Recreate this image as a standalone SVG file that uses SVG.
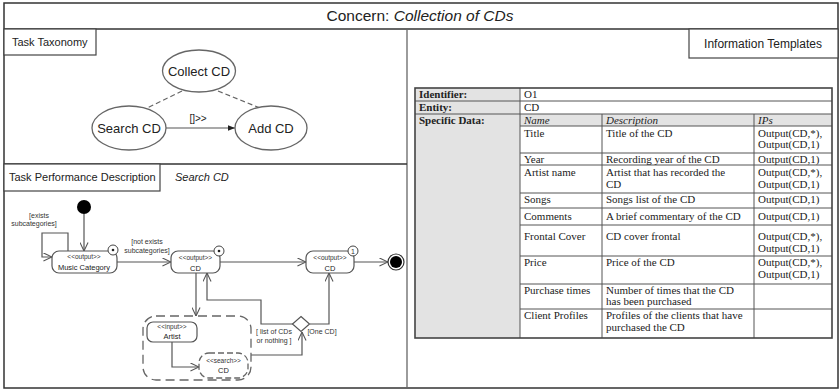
<svg xmlns="http://www.w3.org/2000/svg" width="840" height="392" viewBox="0 0 840 392">
  <defs>
    <marker id="open" viewBox="0 0 10 10" refX="9.5" refY="5" markerWidth="9" markerHeight="9" markerUnits="userSpaceOnUse" orient="auto">
      <path d="M0,0.5 L9.5,5 L0,9.5" fill="none" stroke="#555" stroke-width="1.2"/>
    </marker>
    <marker id="solid" viewBox="0 0 10 10" refX="10" refY="5" markerWidth="9" markerHeight="7" markerUnits="userSpaceOnUse" orient="auto">
      <path d="M0,1 L10,5 L0,9 Z" fill="#222"/>
    </marker>
  </defs>
  <style>
    .frame { fill: none; stroke: #333; stroke-width: 1.5; }
    .lbl { fill: #fff; stroke: #444; stroke-width: 1.2; }
    .sans { font-family: "Liberation Sans", Arial, sans-serif; fill: #222; }
    .ell { fill: #fff; stroke: #666; stroke-width: 1.3; }
    .node { fill: #fff; stroke: #555; stroke-width: 1.2; }
    .dnode { fill: #fff; stroke: #666; stroke-width: 1.3; stroke-dasharray: 6,3; }
    .edge { fill: none; stroke: #555; stroke-width: 1.2; }
    .dash { fill: none; stroke: #666; stroke-width: 1.2; stroke-dasharray: 5,3; }
    .st { font-family: "Liberation Sans", Arial, sans-serif; font-size: 6.5px; fill: #333; text-anchor: middle; }
    .nm { font-family: "Liberation Sans", Arial, sans-serif; font-size: 7.5px; fill: #222; text-anchor: middle; }
    .gd { font-family: "Liberation Sans", Arial, sans-serif; font-size: 7px; fill: #333; }
    .tb { font-family: "Liberation Serif", "Times New Roman", serif; font-size: 11px; fill: #222; }
    .b { font-weight: bold; }
    .i { font-style: italic; }
    .grid { stroke: #555; stroke-width: 1; fill: none; }
  </style>

  <rect x="0" y="0" width="840" height="392" fill="#fff"/>

  <!-- outer frame and panel dividers -->
  <g id="frame">
    <rect class="frame" x="4" y="3" width="834" height="385"/>
    <line class="frame" x1="4" y1="29" x2="838" y2="29"/>
    <line x1="407" y1="29" x2="407" y2="388" stroke="#666" stroke-width="1.3"/>
    <line class="frame" x1="4" y1="164" x2="407" y2="164"/>
    <text class="sans" x="420" y="21" font-size="15.5" text-anchor="middle">Concern: <tspan font-style="italic">Collection of CDs</tspan></text>
  </g>

  <!-- panel labels -->
  <g id="label-taxonomy">
    <rect class="lbl" x="4" y="29" width="92" height="26"/>
    <text class="sans" x="12" y="45.5" font-size="11">Task Taxonomy</text>
  </g>
  <g id="label-performance">
    <rect class="lbl" x="4" y="164" width="156" height="27"/>
    <text class="sans" x="9" y="181" font-size="11">Task Performance Description</text>
    <text class="sans" x="175" y="181" font-size="11" font-style="italic">Search CD</text>
  </g>
  <g id="label-templates">
    <rect class="lbl" x="689" y="29" width="149" height="29"/>
    <text class="sans" x="763" y="47.5" font-size="12" text-anchor="middle">Information Templates</text>
  </g>

  <!-- task taxonomy -->
  <g id="taxonomy-edges">
    <line class="dash" x1="182" y1="91" x2="147" y2="108"/>
    <line class="dash" x1="218" y1="91" x2="260" y2="108"/>
    <line class="edge" x1="166" y1="128" x2="235" y2="128" stroke="#444" marker-end="url(#solid)"/>
    <text class="sans" x="198" y="122" font-size="10" text-anchor="middle">[]&gt;&gt;</text>
  </g>
  <g id="collect-cd">
    <ellipse class="ell" cx="199" cy="71" rx="36.5" ry="21"/>
    <text class="sans" x="199" y="75.5" font-size="13" text-anchor="middle">Collect CD</text>
  </g>
  <g id="search-cd">
    <ellipse class="ell" cx="129" cy="128" rx="37" ry="22"/>
    <text class="sans" x="129" y="132.5" font-size="13" text-anchor="middle">Search CD</text>
  </g>
  <g id="add-cd">
    <ellipse class="ell" cx="271" cy="128" rx="36" ry="22"/>
    <text class="sans" x="271" y="132.5" font-size="13" text-anchor="middle">Add CD</text>
  </g>

  <!-- activity connectors -->
  <g id="activity-edges">
    <line class="edge" x1="84" y1="214" x2="84" y2="251" marker-end="url(#open)"/>
    <path class="edge" d="M68,251 V233 H42 V257 H52" marker-end="url(#open)"/>
    <line class="edge" x1="117" y1="262" x2="171" y2="262" marker-end="url(#open)"/>
    <line class="edge" x1="220" y1="262" x2="306" y2="262" marker-end="url(#open)"/>
    <line class="edge" x1="354" y1="262" x2="388" y2="262" marker-end="url(#open)"/>
    <line class="edge" x1="196" y1="273" x2="196" y2="316" marker-end="url(#open)"/>
    <path class="edge" d="M293,324 H261 V300 H207 V273" marker-end="url(#open)"/>
    <path class="edge" d="M310,324 H329 V273" marker-end="url(#open)"/>
    <path class="edge" d="M251,355 H302 V332" marker-end="url(#open)"/>
    <path class="edge" d="M172,342 V367 H199" marker-end="url(#open)"/>
    <text class="gd" x="39" y="217.5" text-anchor="middle">[exists</text>
    <text class="gd" x="34" y="225.5" text-anchor="middle">subcategories]</text>
    <text class="gd" x="147" y="243.5" text-anchor="middle">[not exists</text>
    <text class="gd" x="147" y="252.5" text-anchor="middle">subcategories]</text>
    <text class="gd" x="274" y="334" text-anchor="middle">[ list of CDs</text>
    <text class="gd" x="274" y="342.5" text-anchor="middle">or nothing ]</text>
    <text class="gd" x="322" y="334" text-anchor="middle">[One CD]</text>
  </g>

  <g id="initial">
    <circle cx="84" cy="207" r="7" fill="#000"/>
  </g>
  <g id="music-category">
    <rect class="node" x="52" y="251" width="65" height="22" rx="7"/>
    <text class="st" x="84" y="259">&lt;&lt;output&gt;&gt;</text>
    <text class="nm" x="84" y="269.5">Music Category</text>
    <circle cx="113" cy="250" r="5" fill="#fff" stroke="#444" stroke-width="1"/>
    <circle cx="113" cy="250" r="1.3" fill="#222"/>
  </g>
  <g id="output-cd-many">
    <rect class="node" x="171" y="251" width="49" height="22" rx="7"/>
    <text class="st" x="195.5" y="259.5">&lt;&lt;output&gt;&gt;</text>
    <text class="nm" x="195.5" y="270.5">CD</text>
    <circle cx="219" cy="251" r="5" fill="#fff" stroke="#444" stroke-width="1"/>
    <circle cx="219" cy="251" r="1.3" fill="#222"/>
  </g>
  <g id="output-cd-one">
    <rect class="node" x="306" y="251" width="48" height="22" rx="7"/>
    <text class="st" x="330" y="259.5">&lt;&lt;output&gt;&gt;</text>
    <text class="nm" x="330" y="270.5">CD</text>
    <circle cx="353" cy="251" r="5" fill="#fff" stroke="#444" stroke-width="1"/>
    <text class="st" x="353" y="253.5" style="font-size:7px">1</text>
  </g>
  <g id="final">
    <circle cx="396" cy="262" r="8" fill="#fff" stroke="#333" stroke-width="1.2"/>
    <circle cx="396" cy="262" r="6" fill="#000"/>
  </g>
  <g id="search-region">
    <rect x="143" y="316" width="108" height="64" rx="13" fill="none" stroke="#666" stroke-width="1.3" stroke-dasharray="9,5"/>
  </g>
  <g id="input-artist">
    <rect class="node" x="147" y="322" width="50" height="20" rx="6"/>
    <text class="st" x="172" y="329">&lt;&lt;input&gt;&gt;</text>
    <text class="nm" x="172" y="338.5">Artist</text>
  </g>
  <g id="search-cd-node">
    <rect class="dnode" x="199" y="353" width="49" height="25" rx="10"/>
    <text class="st" x="223.5" y="363">&lt;&lt;search&gt;&gt;</text>
    <text class="nm" x="223.5" y="372.5">CD</text>
  </g>
  <g id="decision">
    <path d="M301,316.5 L309.5,324 L301,331.5 L292.5,324 Z" fill="#fff" stroke="#555" stroke-width="1.2"/>
  </g>

  <!-- information template table -->
  <g id="template-table">
    <rect x="415" y="88" width="105" height="250" fill="#e3e3e3"/>
    <rect x="520" y="114" width="312" height="12" fill="#e3e3e3"/>
    <g class="grid">
      <line x1="415" y1="101" x2="832" y2="101"/>
      <line x1="415" y1="114" x2="832" y2="114"/>
      <line x1="520" y1="126" x2="832" y2="126"/>
      <line x1="520" y1="153" x2="832" y2="153"/>
      <line x1="520" y1="165" x2="832" y2="165"/>
      <line x1="520" y1="193" x2="832" y2="193"/>
      <line x1="520" y1="208" x2="832" y2="208"/>
      <line x1="520" y1="225" x2="832" y2="225"/>
      <line x1="520" y1="256" x2="832" y2="256"/>
      <line x1="520" y1="284" x2="832" y2="284"/>
      <line x1="520" y1="309" x2="832" y2="309"/>
      <line x1="520" y1="88" x2="520" y2="338"/>
      <line x1="602" y1="114" x2="602" y2="338"/>
      <line x1="754" y1="114" x2="754" y2="338"/>
    </g>
    <rect x="415" y="88" width="417" height="250" fill="none" stroke="#444" stroke-width="1.6"/>

    <text class="tb b" x="419" y="98">Identifier:</text>
    <text class="tb" x="524" y="98">O1</text>
    <text class="tb b" x="419" y="111">Entity:</text>
    <text class="tb" x="524" y="111">CD</text>
    <text class="tb b" x="419" y="123.5">Specific Data:</text>
    <text class="tb i" x="524" y="123.5">Name</text>
    <text class="tb i" x="606" y="123.5">Description</text>
    <text class="tb i" x="758" y="123.5">IPs</text>

    <text class="tb" x="524" y="136.5">Title</text>
    <text class="tb" x="606" y="136.5">Title of the CD</text>
    <text class="tb" x="758" y="136.5">Output(CD,*),</text>
    <text class="tb" x="758" y="148">Output(CD,1)</text>

    <text class="tb" x="524" y="163">Year</text>
    <text class="tb" x="606" y="163">Recording year of the CD</text>
    <text class="tb" x="758" y="163">Output(CD,1)</text>

    <text class="tb" x="524" y="176">Artist name</text>
    <text class="tb" x="606" y="176">Artist that has recorded the</text>
    <text class="tb" x="606" y="187.5">CD</text>
    <text class="tb" x="758" y="176">Output(CD,*),</text>
    <text class="tb" x="758" y="187.5">Output(CD,1)</text>

    <text class="tb" x="524" y="203">Songs</text>
    <text class="tb" x="606" y="203">Songs list of the CD</text>
    <text class="tb" x="758" y="203">Output(CD,1)</text>

    <text class="tb" x="524" y="220">Comments</text>
    <text class="tb" x="606" y="220">A brief commentary of the CD</text>
    <text class="tb" x="758" y="220">Output(CD,1)</text>

    <text class="tb" x="524" y="240">Frontal Cover</text>
    <text class="tb" x="606" y="240">CD cover frontal</text>
    <text class="tb" x="758" y="240">Output(CD,*),</text>
    <text class="tb" x="758" y="251.5">Output(CD,1)</text>

    <text class="tb" x="524" y="266">Price</text>
    <text class="tb" x="606" y="266">Price of the CD</text>
    <text class="tb" x="758" y="266">Output(CD,*),</text>
    <text class="tb" x="758" y="277.5">Output(CD,1)</text>

    <text class="tb" x="524" y="294">Purchase times</text>
    <text class="tb" x="606" y="294">Number of times that the CD</text>
    <text class="tb" x="606" y="305">has been purchased</text>

    <text class="tb" x="524" y="319">Client Profiles</text>
    <text class="tb" x="606" y="319">Profiles of the clients that have</text>
    <text class="tb" x="606" y="330.5">purchased the CD</text>
  </g>
</svg>
